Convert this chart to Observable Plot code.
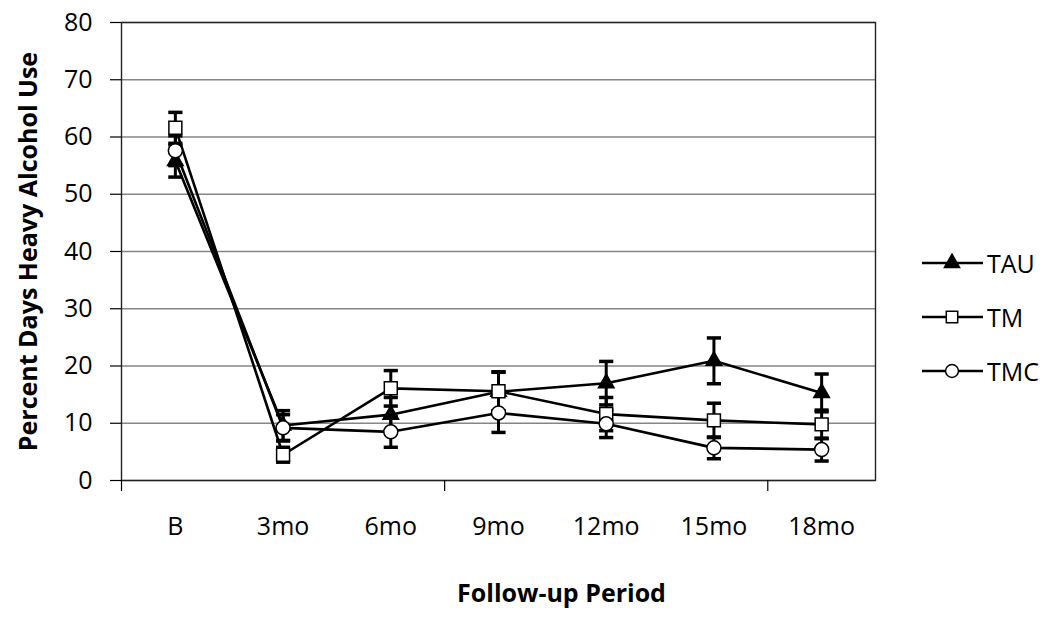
<!DOCTYPE html>
<html><head><meta charset="utf-8">
<script src="https://cdn.jsdelivr.net/npm/d3@7"></script>
<script src="https://cdn.jsdelivr.net/npm/@observablehq/plot@0.6"></script>
<style>
body{margin:0;background:#fff;}
#wrap{position:relative;width:1050px;height:617px;overflow:hidden;}
.lg{position:absolute;left:920px;height:30px;display:flex;align-items:center;font-family:"Open Sans",sans-serif;font-size:25px;color:#000;}
.lg svg{display:block;margin-right:3px;}
</style></head><body><div id="wrap"><div id="chart"></div></div>
<script>
const periods = ["B","3mo","6mo","9mo","12mo","15mo","18mo"];
const groups = ["TAU","TM","TMC"];
const tauMean = [55.8, 9.6, 11.5, 15.5, 17.0, 20.9, 15.3];
const tauErr  = [2.8, 2.6, 3.0, 3.4, 3.8, 4.0, 3.3];
const tmMean  = [61.6, 4.5, 16.1, 15.6, 11.6, 10.5, 9.8];
const tmErr   = [2.7, 1.3, 3.1, 3.4, 2.9, 3.0, 2.5];
const tmcMean = [57.6, 9.2, 8.5, 11.8, 9.9, 5.7, 5.4];
const tmcErr  = [2.6, 2.3, 2.7, 3.4, 2.4, 1.9, 2.0];
const yTicks = [0, 10, 20, 30, 40, 50, 60, 70, 80];
const xTickInterval = 3;
const yLabel = "Percent Days Heavy Alcohol Use";
const xLabel = "Follow-up Period";

const means = {TAU: tauMean, TM: tmMean, TMC: tmcMean};
const errs = {TAU: tauErr, TM: tmErr, TMC: tmcErr};
const rows = groups.flatMap(g => periods.map((p, i) => ({group: g, i, period: p, mean: means[g][i], err: errs[g][i]})));

const sym = {TAU: "triangle", TM: "square", TMC: "circle"};
const fill = {TAU: "black", TM: "white", TMC: "white"};
const rad = {TAU: 5.8, TM: 7.3, TMC: 7};
const cap = {draw(ctx, size) { const w = Math.sqrt(size); ctx.moveTo(-w, 0); ctx.lineTo(w, 0); }};

const n = periods.length;
const boundaryTicks = d3.range(-0.5, n, xTickInterval);
const font = "'Open Sans', sans-serif";

const chart = Plot.plot({
  width: 1050, height: 617,
  marginLeft: 121, marginRight: 175, marginTop: 22, marginBottom: 137,
  style: {fontFamily: font, fontSize: "25px", color: "#000", background: "#fff"},
  x: {type: "linear", domain: [-0.5, n - 0.5], label: null},
  y: {domain: [0, 80], label: null},
  marks: [
    Plot.gridY(yTicks, {stroke: "#868686", strokeOpacity: 1, strokeWidth: 1.4}),
    Plot.frame({stroke: "#222", strokeWidth: 1.4}),
    Plot.axisY(yTicks, {tickSize: 11, tickPadding: 18, fontSize: 25, strokeWidth: 1.2}),
    Plot.axisX(boundaryTicks, {tickSize: 11, tickFormat: () => "", strokeWidth: 1.2}),
    Plot.axisX(d3.range(n), {tickSize: 0, tickPadding: 37, tickFormat: i => periods[i], fontSize: 25}),
    Plot.ruleX(rows, {x: "i", y1: d => d.mean - d.err, y2: d => d.mean + d.err, stroke: "black", strokeWidth: 3}),
    Plot.dot(rows, {x: "i", y: d => d.mean - d.err, symbol: cap, r: 4, stroke: "black", strokeWidth: 3.5, fill: "none"}),
    Plot.dot(rows, {x: "i", y: d => d.mean + d.err, symbol: cap, r: 4, stroke: "black", strokeWidth: 3.5, fill: "none"}),
    ...groups.map(g => Plot.line(rows.filter(d => d.group === g), {x: "i", y: "mean", stroke: "black", strokeWidth: 2.6})),
    ...groups.map(g => Plot.dot(rows.filter(d => d.group === g), {x: "i", y: "mean", symbol: sym[g], r: rad[g], fill: fill[g], stroke: "black", strokeWidth: 1.5})),
    Plot.text([yLabel], {frameAnchor: "left", rotate: -90, dx: -93, textAnchor: "middle", lineAnchor: "middle", fontWeight: "bold", fontSize: 25}),
    Plot.text([xLabel], {frameAnchor: "bottom", dy: 113, dx: 63, textAnchor: "middle", lineAnchor: "middle", fontWeight: "bold", fontSize: 25})
  ]
});
document.getElementById("chart").append(chart);

// legend
const wrap = document.getElementById("wrap");
const ns = "http://www.w3.org/2000/svg";
groups.forEach((g, k) => {
  const row = document.createElement("div");
  row.className = "lg";
  row.style.top = (248 + k * 54) + "px";
  const svg = document.createElementNS(ns, "svg");
  svg.setAttribute("width", 64); svg.setAttribute("height", 30);
  const line = document.createElementNS(ns, "line");
  line.setAttribute("x1", 2); line.setAttribute("x2", 63); line.setAttribute("y1", 15); line.setAttribute("y2", 15);
  line.setAttribute("stroke", "black"); line.setAttribute("stroke-width", 2.6);
  svg.append(line);
  const p = document.createElementNS(ns, "path");
  const symType = {TAU: d3.symbolTriangle, TM: d3.symbolSquare, TMC: d3.symbolCircle}[g];
  const size = {TAU: 100, TM: 130, TMC: 130}[g];
  p.setAttribute("d", d3.symbol(symType, size)());
  p.setAttribute("transform", "translate(32,15)");
  p.setAttribute("fill", fill[g]); p.setAttribute("stroke", "black"); p.setAttribute("stroke-width", 1.5);
  svg.append(p);
  row.append(svg);
  const t = document.createElement("span");
  t.textContent = g;
  row.append(t);
  wrap.append(row);
});
</script></body></html>
